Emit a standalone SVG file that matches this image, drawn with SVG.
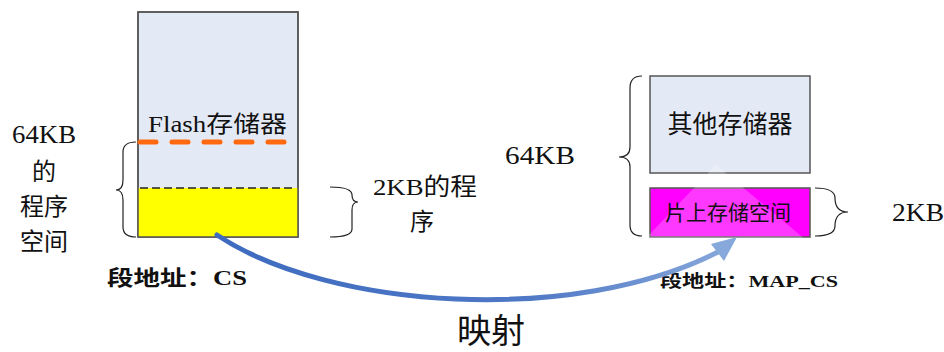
<svg xmlns="http://www.w3.org/2000/svg" width="944" height="352" viewBox="0 0 944 352">
<style>
.serif{font-family:"Liberation Serif","Noto Sans CJK SC",serif;fill:#111}
.sans{font-family:"Noto Sans CJK SC","Liberation Sans",sans-serif;fill:#111}
.box{stroke:#555;stroke-width:1.5}
.brace{fill:none;stroke:#222;stroke-width:1.2}
</style>
<defs>
<linearGradient id="ag" gradientUnits="userSpaceOnUse" x1="215" y1="0" x2="737" y2="0">
<stop offset="0" stop-color="#3e6bc0"/>
<stop offset="0.6" stop-color="#4f78c6"/>
<stop offset="1" stop-color="#8aaadb"/>
</linearGradient>
</defs>
<rect width="944" height="352" fill="#fff"/>

<g id="flash">
<rect class="box" x="138" y="12" width="160" height="225" fill="#e4eaf5"/>
<rect x="138" y="188" width="160" height="49" fill="#ffff00"/>
<rect x="138" y="12" width="160" height="225" fill="none" class="box"/>
<line x1="140" y1="188" x2="296" y2="188" stroke="#222" stroke-width="1.5" stroke-dasharray="8 4"/>
<line x1="140" y1="142" x2="286" y2="142" stroke="#ff6a10" stroke-width="5" stroke-linecap="round" stroke-dasharray="16 16"/>
<text class="serif" x="148" y="132" font-size="23" textLength="139" lengthAdjust="spacingAndGlyphs">Flash存储器</text>
</g>

<g id="left-label">
<path class="brace" d="M136,142 Q123,142 123,152 L123,180 Q123,190 116,190 Q123,190 123,200 L123,227 Q123,237 136,237"/>
<text class="serif" x="12" y="143" font-size="25" textLength="64" lengthAdjust="spacingAndGlyphs">64KB</text>
<text class="serif" font-size="24" text-anchor="middle"><tspan x="44" y="180">的</tspan><tspan x="44" y="215">程序</tspan><tspan x="44" y="250">空间</tspan></text>
<text class="serif" x="107" y="285" font-size="21" font-weight="bold" textLength="140" lengthAdjust="spacingAndGlyphs">段地址：CS</text>
</g>

<g id="mid-label">
<path class="brace" d="M330,187 Q352,187 352,195 Q352,202 358,202 Q352,202 352,210 L352,229 Q352,237 330,237"/>
<text class="serif" x="373" y="195" font-size="24" textLength="104" lengthAdjust="spacingAndGlyphs">2KB的程</text>
<text class="serif" x="422" y="230" font-size="24" text-anchor="middle">序</text>
<text class="serif" x="505" y="164" font-size="25" textLength="70" lengthAdjust="spacingAndGlyphs">64KB</text>
</g>

<g id="other">
<rect class="box" x="650" y="76" width="160" height="97" fill="#e4eaf5"/>
<text class="sans" x="730" y="133" font-size="25" text-anchor="middle">其他存储器</text>
</g>

<g id="onchip">
<rect class="box" x="650" y="188" width="160" height="49" fill="#ff00ff"/>
<polygon points="716,165 644,240 806,240" fill="#ffffff" fill-opacity="0.22"/>
<text class="sans" x="728" y="220" font-size="21" text-anchor="middle" fill="#222">片上存储空间</text>
</g>

<g id="right-label">
<path class="brace" d="M642,76 Q630,76 630,88 L630,147 Q630,157 619,157 Q630,157 630,167 L630,225 Q630,236 642,236"/>
<path class="brace" d="M815,188 Q835,188 835,198 Q835,212 848,212 Q835,212 835,226 Q835,236 815,236"/>
<text class="serif" x="892" y="221" font-size="25" textLength="52" lengthAdjust="spacingAndGlyphs">2KB</text>
<text class="serif" x="660" y="287" font-size="17" font-weight="bold" fill="#444" textLength="178" lengthAdjust="spacingAndGlyphs">段地址：MAP_CS</text>
</g>

<g id="connectors">
<path d="M217,235 C330,310 575,325 718,252" fill="none" stroke="url(#ag)" stroke-width="5" stroke-linecap="round"/>
<polygon points="737,237 711,244 724,261" fill="#86a8da"/>
<text class="serif" x="491" y="343" font-size="34" text-anchor="middle">映射</text>
</g>
</svg>
